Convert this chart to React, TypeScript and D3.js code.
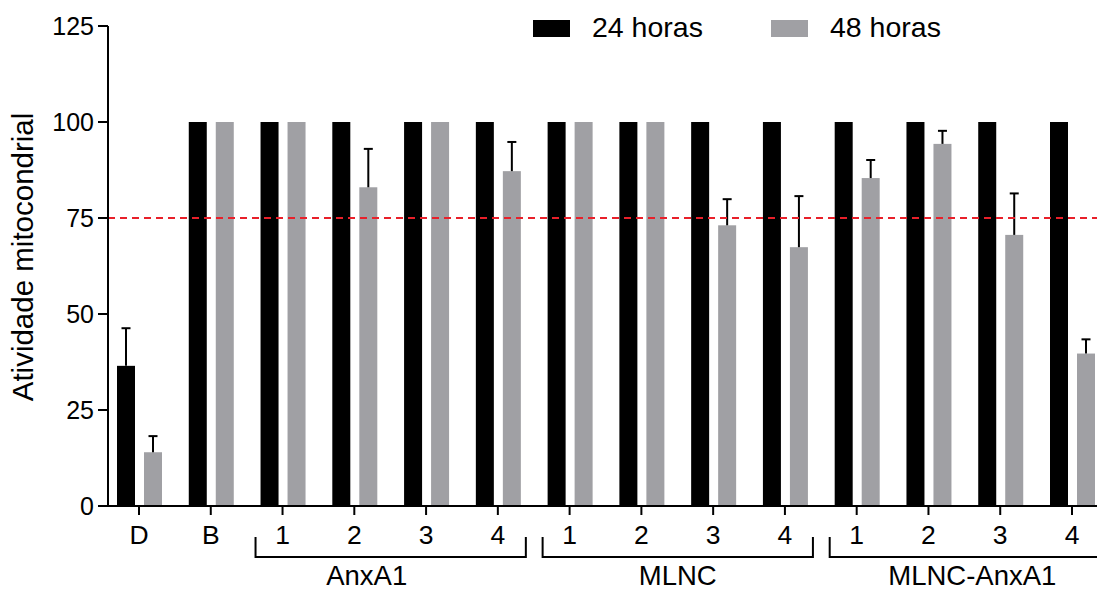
import React from "react";
import * as d3 from "d3";

const categoryIds = ["D", "B", "A1", "A2", "A3", "A4", "M1", "M2", "M3", "M4", "MA1", "MA2", "MA3", "MA4"];
const categoryLabels = ["D", "B", "1", "2", "3", "4", "1", "2", "3", "4", "1", "2", "3", "4"];
const h24 = [36.5, 100, 100, 100, 100, 100, 100, 100, 100, 100, 100, 100, 100, 100];
const h24err = [9.8, 0, 0, 0, 0, 0, 0, 0, 0, 0, 0, 0, 0, 0];
const h48 = [14.0, 100, 100, 83.0, 100, 87.2, 100, 100, 73.1, 67.4, 85.4, 94.3, 70.6, 39.7];
const h48err = [4.2, 0, 0, 10.0, 0, 7.6, 0, 0, 6.8, 13.3, 4.7, 3.4, 10.8, 3.7];
const yTicks = [0, 25, 50, 75, 100, 125];
const groups = [
  { label: "AnxA1", first: "A1", last: "A4", closed: true, shift: -24 },
  { label: "MLNC", first: "M1", last: "M4", closed: true, shift: 0 },
  { label: "MLNC-AnxA1", first: "MA1", last: "MA4", closed: false, shift: 0 },
];
const seriesNames = ["24 horas", "48 horas"];
const threshold = 75;

const FONT = "'Liberation Sans', Arial, Helvetica, sans-serif";
const BLACK = "#000000";
const GRAY = "#a0a0a4";

export default function App() {
  const W = 1097, H = 590;
  const x0 = 108, x1 = 1097;
  const y = d3.scaleLinear().domain([0, 125]).range([506, 26]);
  const x = d3.scalePoint<string>().domain(categoryIds).range([139, 1072]);
  const barW = 18;
  const off = [-13, 14];
  const colors = [BLACK, GRAY];
  const vals = [h24, h48];
  const errs = [h24err, h48err];

  return (
    <svg width={W} height={H} style={{ position: "absolute", left: 0, top: 0, background: "#fff" }} fontFamily={FONT}>
      {vals.map((arr, s) =>
        arr.map((v, i) => {
          const cx = (x(categoryIds[i]) as number) + off[s];
          return (
            <rect key={`b${s}-${i}`} x={cx - barW / 2} y={y(v)} width={barW} height={y(0) - y(v)} fill={colors[s]} />
          );
        })
      )}
      {vals.map((arr, s) =>
        arr.map((v, i) => {
          const e = errs[s][i];
          if (!e) return null;
          const cx = (x(categoryIds[i]) as number) + off[s];
          return (
            <g key={`e${s}-${i}`} stroke="#000" strokeWidth={2}>
              <line x1={cx} x2={cx} y1={y(v)} y2={y(v + e)} />
              <line x1={cx - 4.5} x2={cx + 4.5} y1={y(v + e)} y2={y(v + e)} />
            </g>
          );
        })
      )}
      <line x1={x0} x2={x1} y1={y(threshold)} y2={y(threshold)} stroke="#e8202a" strokeWidth={2} strokeDasharray="7,5" />
      <line x1={x0} x2={x0} y1={y(125)} y2={y(0)} stroke="#000" strokeWidth={2} />
      {yTicks.map((t) => (
        <g key={`yt${t}`}>
          <line x1={x0 - 10} x2={x0} y1={y(t)} y2={y(t)} stroke="#000" strokeWidth={2} />
          <text x={x0 - 14} y={y(t)} dy="0.36em" textAnchor="end" fontSize={25} fill="#000">{t}</text>
        </g>
      ))}
      <text transform={`translate(33,${257}) rotate(-90)`} textAnchor="middle" fontSize={29.5} fill="#000">Atividade mitocondrial</text>
      <line x1={x0} x2={x1} y1={y(0)} y2={y(0)} stroke="#000" strokeWidth={2} />
      {categoryIds.map((c, i) => (
        <g key={`xt${c}`}>
          <line x1={x(c)} x2={x(c)} y1={y(0)} y2={y(0) + 9} stroke="#000" strokeWidth={2} />
          <text x={x(c)} y={544} textAnchor="middle" fontSize={26.5} fill="#000">{categoryLabels[i]}</text>
        </g>
      ))}
      {groups.map((g) => {
        const a = (x(g.first) as number) - 27;
        const b = (x(g.last) as number) + 28;
        const path = g.closed ? `M${a},537 V557 H${b} V537` : `M${a},537 V557 H${b + 20}`;
        const mid = g.closed ? (a + b) / 2 : (a + 1115) / 2;
        return (
          <g key={g.label}>
            <path d={path} fill="none" stroke="#000" strokeWidth={2} />
            <text x={mid + g.shift} y={585} textAnchor="middle" fontSize={27.5} fill="#000">{g.label}</text>
          </g>
        );
      })}
      {seriesNames.map((n, i) => {
        const lx = [533, 771][i];
        return (
          <g key={n}>
            <rect x={lx} y={20} width={37} height={17} fill={colors[i]} />
            <text x={lx + 59} y={37} fontSize={28.5} fill="#000">{n}</text>
          </g>
        );
      })}
    </svg>
  );
}
